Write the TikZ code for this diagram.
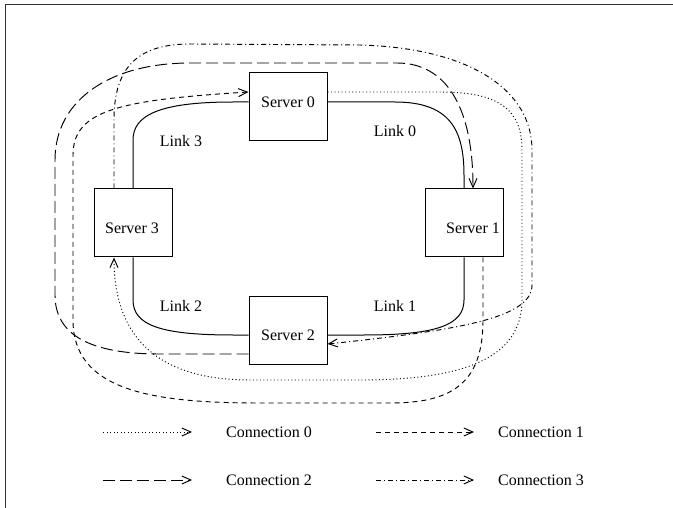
\documentclass[tikz,border=0pt]{standalone}
\usepackage{fontspec}
\setmainfont{Liberation Serif}
\usetikzlibrary{arrows.meta}
\begin{document}
\begin{tikzpicture}[x=1pt, y=-1pt, line width=0.95pt,
  >={Straight Barb[length=9pt,width=8pt]},
  server/.style={draw, line width=1pt, minimum width=78pt,
    minimum height=68pt, inner sep=0pt},
  link/.style={line width=1pt},
  conn0/.style={->, dash pattern=on 1pt off 2.5pt},
  conn1/.style={->, dash pattern=on 5pt off 4pt},
  conn2/.style={->, dash pattern=on 12pt off 5pt},
  conn3/.style={->, dash pattern=on 5pt off 3pt on 1pt off 3pt}]

  \newcommand\Dx{19pt};
  \newcommand\Dy{15pt};

  \useasboundingbox (0,0) rectangle (673,508);
  \draw[line width=1.3pt, black!80] (5.5,508) -- (5.5,4.5) -- (673,4.5); %% frame

  \node[server] (s0) at (288,107) {};
  \node[server] (s1) at (464,223) {};
  \node[server] (s2) at (288,330.5) {};
  \node[server] (s3) at (133,223) {};

  %% links
  \draw[link] ([yshift=5pt]s0.west) -- (233,102)
  .. controls (160,102) and (133,115) .. (133,140) -- (s3.north); %% link 3
  \draw[link] (s3.south) -- (133,300)
  .. controls (133,325) and (160,335) .. (233,335)
  -- ([yshift=-4.5pt]s2.west); %% link 2
  \draw[link] ([yshift=-4.5pt]s2.east) -- (364,335)
  .. controls (437,335) and (464,325) .. (464,300) -- (s1.south); %% link 1
  \draw[link] (s1.north) -- (464,175)
  .. controls (464,130) and (450,102) .. (395,102)
  -- ([yshift=5pt]s0.east); %% link 0

  %% connections
  \draw[conn0] ([yshift=\Dy]s0.east) -- (440,92)
  .. controls (500,92) and (522,110) .. (522,150) -- (522,300)
  .. controls (522,360) and (460,380) .. (360,380) -- (250,380)
  .. controls (150,380) and (114,330) .. ([xshift=-\Dx]s3.south); %% 0 -> 3
  \draw[conn1] ([xshift=\Dx]s1.south) -- (483,320)
  .. controls (483,385) and (450,403) .. (390,403) -- (260,403)
  .. controls (150,403) and (73,390) .. (73,320) -- (73,155)
  .. controls (73,110) and (120,100) .. ([yshift=\Dy]s0.west); %% 1 -> 0
  \draw[conn2] ([yshift=-23.5pt]s2.west) -- (160,354)
  .. controls (90,354) and (55,335) .. (55,295) -- (55,160)
  .. controls (55,100) and (110,63) .. (190,63) -- (397,63)
  .. controls (445,63) and (473,105) .. ([xshift=9pt]s1.north); %% 2 -> 1
  \draw[conn3] ([xshift=-\Dx]s3.north) -- (114,120)
  .. controls (114,70) and (135,44) .. (190,44) -- (360,45)
  .. controls (470,48) and (532,90) .. (532,150) -- (532,285)
  .. controls (532,318) and (460,330) .. ([yshift=-13.5pt]s2.east); %% 3 -> 2

  %% legend
  \coordinate (a0) at (103,432); \coordinate (b0) at (192,432);
  \coordinate (a1) at (376,432); \coordinate (b1) at (474,432);
  \coordinate (a2) at (103,480); \coordinate (b2) at (192,480);
  \coordinate (a3) at (376,480); \coordinate (b3) at (474,480);
  \draw[conn0] (a0) -- (b0);
  \draw[conn1] (a1) -- (b1);
  \draw[conn2] (a2) -- (b2);
  \draw[conn3] (a3) -- (b3);

  \fontsize{16}{19}\selectfont
  \node (n0) at (288,102) {Server 0};
  \node (n1) at (473,228) {Server 1};
  \node (n2) at (288,335) {Server 2};
  \node (n3) at (132,228) {Server 3};

  \node (k0) at (395,131) {Link 0};
  \node (k1) at (395,306) {Link 1};
  \node (k2) at (181,306) {Link 2};
  \node (k3) at (181,141) {Link 3};

  \node (t0) at (269,432) {Connection 0};
  \node (t1) at (541,432) {Connection 1};
  \node (t2) at (269,480) {Connection 2};
  \node (t3) at (541,480) {Connection 3};

\end{tikzpicture}
\end{document}
